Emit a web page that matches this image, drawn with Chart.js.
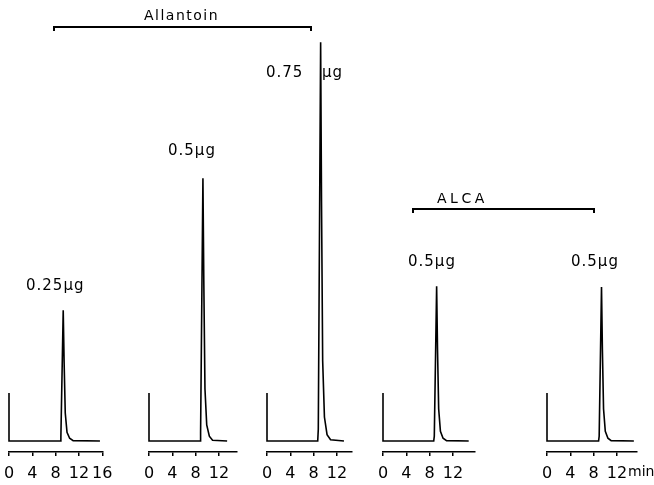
<!DOCTYPE html>
<html>
<head>
<meta charset="utf-8">
<script src="https://cdn.jsdelivr.net/npm/chart.js@4.4.0/dist/chart.umd.min.js"></script>
<style>
    body { margin: 0; background: #fff; }
    #wrap { position: relative; width: 654px; height: 485px; overflow: hidden; font-family: 'DejaVu Sans', sans-serif; color: #000; }
    #wrap canvas { position: absolute; top: 0; }
    .lbl { position: absolute; font-size: 15px; letter-spacing: 1px; white-space: nowrap; line-height: 15px; }
    .brk { position: absolute; border: 2px solid #000; border-bottom: none; height: 3px; }
</style>
</head>
<body>
<div id="wrap">
    <canvas id="p1"></canvas>
    <canvas id="p2"></canvas>
    <canvas id="p3"></canvas>
    <canvas id="p4"></canvas>
    <canvas id="p5"></canvas>

    <div class="lbl" style="left:144px; top:8px; font-size:14px; letter-spacing:1.5px;">Allantoin</div>
    <div class="brk" style="left:53px; top:26px; width:255px;"></div>
    <div class="lbl" style="left:437px; top:191px; font-size:14px; letter-spacing:3.5px;">ALCA</div>
    <div class="brk" style="left:412px; top:208px; width:179px;"></div>

    <div class="lbl" id="l1" style="left:26px; top:278px;"></div>
    <div class="lbl" id="l2" style="left:168px; top:143px;"></div>
    <div class="lbl" id="l3a" style="left:266px; top:65px;"></div>
    <div class="lbl" id="l3b" style="left:322px; top:65px;"></div>
    <div class="lbl" id="l4" style="left:408px; top:254px;"></div>
    <div class="lbl" id="l5" style="left:571px; top:254px;"></div>
    <div class="lbl" style="left:628px; top:464px; font-size:14px; letter-spacing:0;">min</div>
</div>

<script>
// amounts injected (labels above each trace)
const amountLabels = ['0.25\u00b5g', '0.5\u00b5g', '0.75', '0.5\u00b5g', '0.5\u00b5g'];

// retention time (min) and detector response for each trace
const t1 = [0, 0, 8.8, 8.9, 9.3, 9.45, 9.65, 9.95, 10.4, 11.0, 15.6];
const v1 = [12, 0, 0, 1, 32.7, 20, 7, 2.2, 0.7, 0.1, 0];

const t2 = [0, 0, 8.75, 8.85, 9.25, 9.4, 9.6, 9.9, 10.35, 10.9, 13.4];
const v2 = [12, 0, 0, 2, 65.7, 40, 13, 4, 1.2, 0.2, 0];

const t3 = [0, 0, 8.7, 8.8, 9.2, 9.35, 9.55, 9.85, 10.3, 10.9, 13.2];
const v3 = [12, 0, 0, 3, 99.7, 60, 20, 6, 1.6, 0.3, 0];

const t4 = [0, 0, 8.7, 8.8, 9.2, 9.35, 9.55, 9.85, 10.3, 10.9, 14.7];
const v4 = [12, 0, 0, 1.2, 38.7, 23, 8, 2.4, 0.7, 0.1, 0];

const t5 = [0, 0, 8.85, 8.95, 9.35, 9.5, 9.7, 10.0, 10.45, 11.0, 14.9];
const v5 = [12, 0, 0, 1.2, 38.5, 23, 8, 2.4, 0.7, 0.1, 0];

// time axis end for each panel, and tick spacing
const axisMax = [16, 15, 14.5, 15.8, 15.4];
const tickStep = 4;

document.addEventListener('DOMContentLoaded', function () {
    const chartFont = "'DejaVu Sans', sans-serif";
    const pxPerMin = 5.83;
    const padL = 16;
    const padR = 22;
    const origins = [9, 149, 267, 383, 547];

    document.getElementById('l1').textContent = amountLabels[0];
    document.getElementById('l2').textContent = amountLabels[1];
    document.getElementById('l3a').textContent = amountLabels[2];
    document.getElementById('l3b').textContent = '\u00b5g';
    document.getElementById('l4').textContent = amountLabels[3];
    document.getElementById('l5').textContent = amountLabels[4];

    const traces = [[t1, v1], [t2, v2], [t3, v3], [t4, v4], [t5, v5]];

    traces.forEach(function (tr, i) {
        const canvas = document.getElementById('p' + (i + 1));
        const w = Math.round(padL + axisMax[i] * pxPerMin + padR);
        canvas.width = w;
        canvas.height = 485;
        canvas.style.left = (origins[i] - padL) + 'px';

        const points = tr[0].map(function (t, k) { return { x: t, y: tr[1][k] }; });

        new Chart(canvas.getContext('2d'), {
            type: 'line',
            data: {
                datasets: [{
                    data: points,
                    borderColor: '#000',
                    borderWidth: 1.6,
                    pointRadius: 0,
                    tension: 0,
                    fill: false,
                    clip: false
                }]
            },
            options: {
                responsive: false,
                animation: false,
                layout: { padding: { top: 41, left: padL, right: w - padL - axisMax[i] * pxPerMin, bottom: 0 } },
                scales: {
                    x: {
                        type: 'linear',
                        min: 0,
                        max: axisMax[i],
                        afterFit: function (s) { s.height = 33; },
                        border: { display: true, color: '#000', width: 1.5 },
                        grid: { drawOnChartArea: false, drawTicks: true, tickLength: 4, color: '#000', lineWidth: 1.5 },
                        ticks: {
                            stepSize: tickStep,
                            includeBounds: false,
                            autoSkip: false,
                            maxRotation: 0,
                            color: '#000',
                            padding: 8,
                            font: { family: chartFont, size: 16 }
                        }
                    },
                    y: { display: false, min: -2.75, max: 100 }
                },
                plugins: {
                    legend: { display: false },
                    tooltip: { enabled: false }
                }
            }
        });
    });
});
</script>
</body>
</html>
